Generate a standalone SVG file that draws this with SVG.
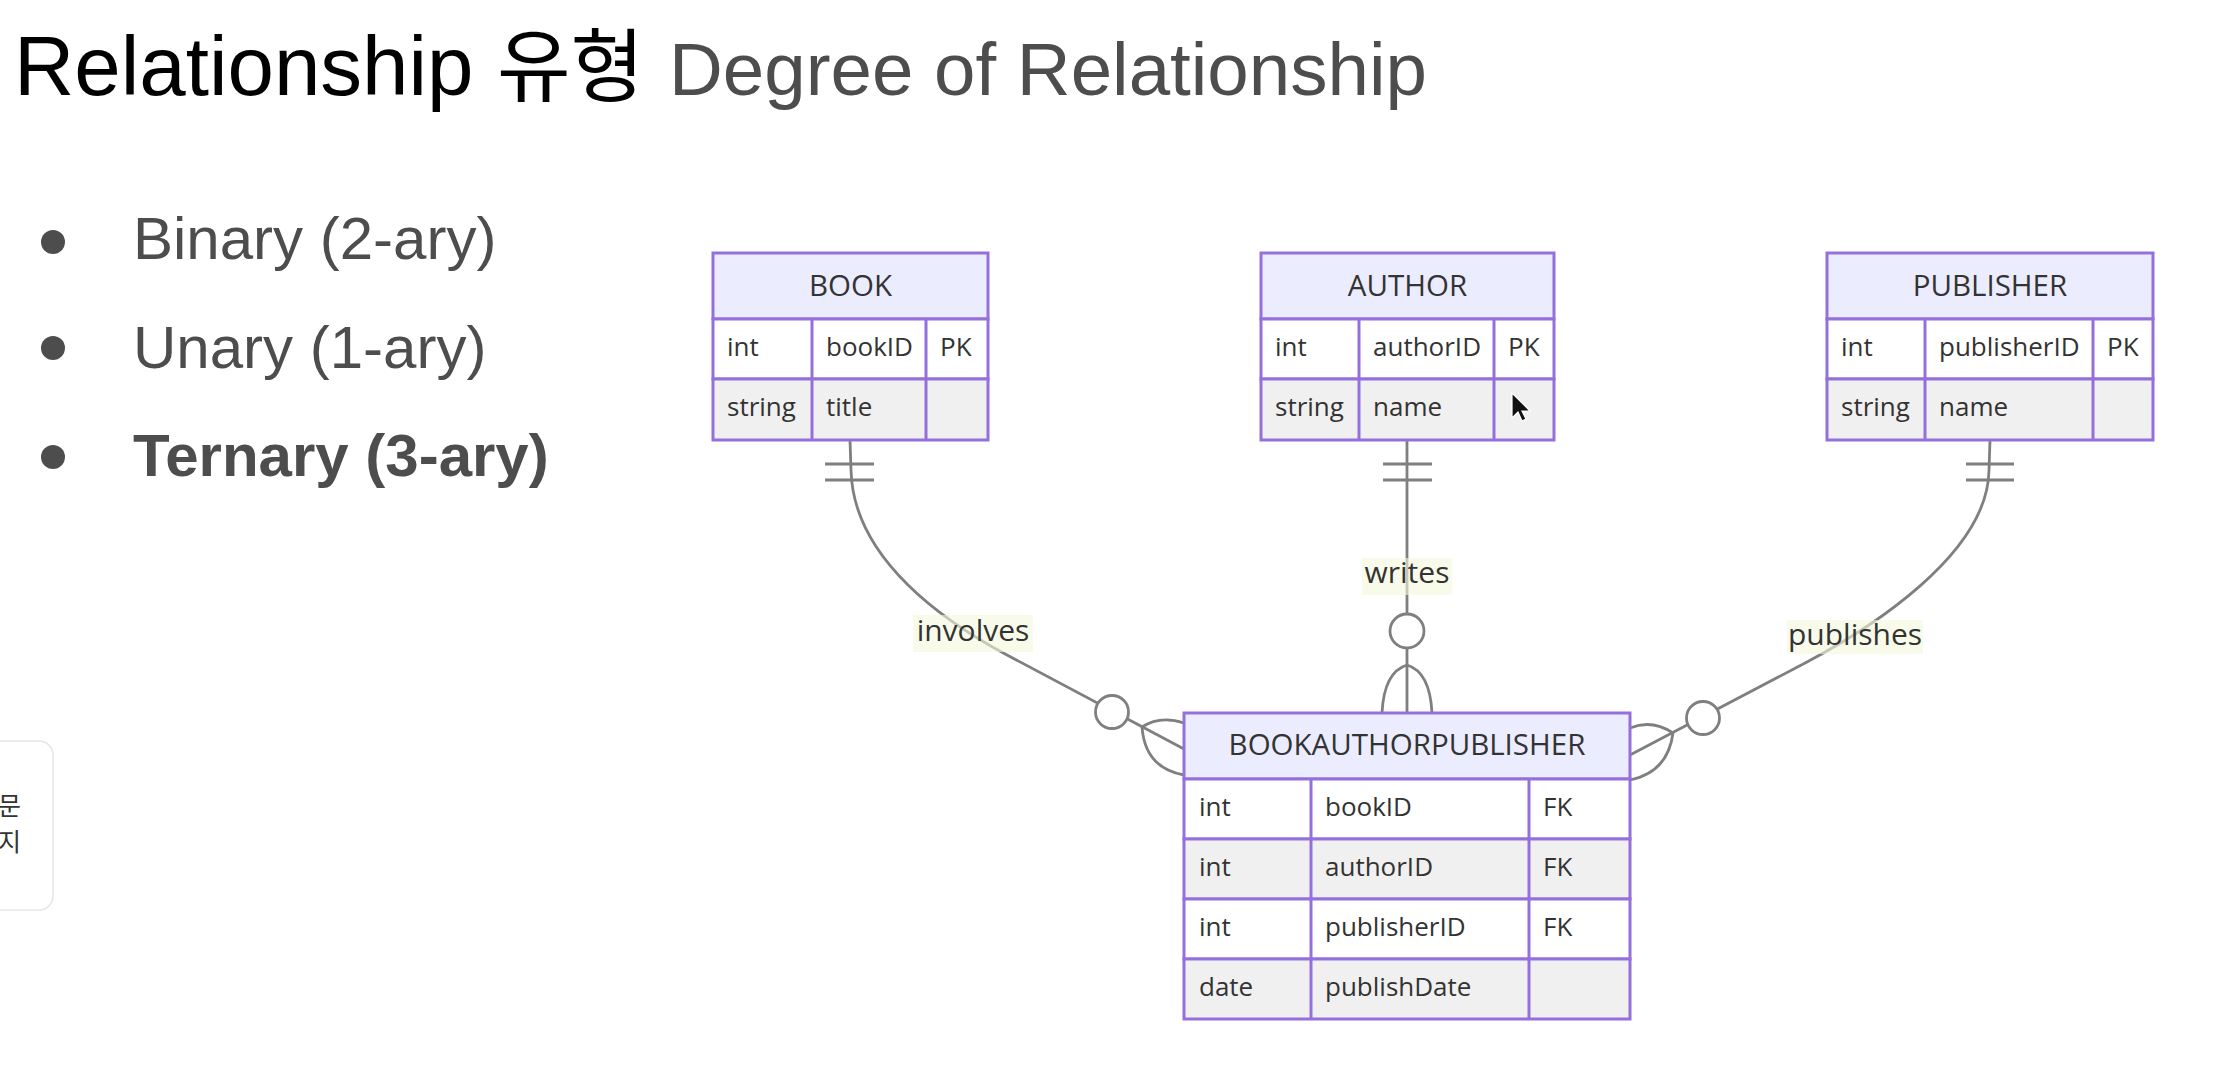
<svg xmlns="http://www.w3.org/2000/svg" width="2240" height="1090" viewBox="0 0 2240 1090">
<style>
.ttl{font-family:"Liberation Sans",Arial,"Noto Sans CJK KR",sans-serif;}
.blt{font-family:"Liberation Sans",Arial,sans-serif;font-size:60px;fill:#4d4d4d;}
.hdr{fill:#ECECFF;stroke:#9370DB;stroke-width:3;}
.rw{fill:#ffffff;stroke:#9370DB;stroke-width:3;}
.ra{fill:#f0f0f0;stroke:#9370DB;stroke-width:3;}
.cl{stroke:#9370DB;stroke-width:3;fill:none;}
.ht{font-family:"Open Sans",Lato,sans-serif;font-size:29.5px;fill:#333;text-anchor:middle;}
.tt{font-family:"Open Sans",Lato,sans-serif;font-size:26px;fill:#333;}
.edge{fill:none;stroke:#7f7f7f;stroke-width:2.8;}
.circ{fill:#ffffff;stroke:#7f7f7f;stroke-width:2.8;}
.lbg{fill:#f3f8dc;opacity:0.6;}
.lt{font-family:"Open Sans",Lato,sans-serif;font-size:30px;fill:#333;text-anchor:middle;}
</style>
<rect x="0" y="0" width="2240" height="1090" fill="#ffffff"/>

<g id="title">
<text class="ttl" x="14" y="95" font-size="83.5" fill="#000">Relationship</text>
<text class="ttl" x="497" y="95" font-size="80" fill="#000">유형</text>
<text class="ttl" x="669" y="95" font-size="74.5" fill="#4d4d4d">Degree of Relationship</text>
</g>

<g id="bullets">
<circle cx="53" cy="242" r="12" fill="#4d4d4d"/>
<text class="blt" x="133" y="259">Binary (2-ary)</text>
<circle cx="53" cy="348" r="12" fill="#4d4d4d"/>
<text class="blt" x="133" y="368">Unary (1-ary)</text>
<circle cx="53" cy="457" r="12" fill="#4d4d4d"/>
<text class="blt" x="133" y="476" font-weight="bold">Ternary (3-ary)</text>
</g>

<g id="side-panel">
<rect x="-20" y="741" width="73" height="169" rx="14" fill="#ffffff" stroke="#e6e6e6" stroke-width="1.5"/>
<text x="-2" y="815" font-family="'Noto Sans CJK KR',sans-serif" font-size="25" fill="#333">문</text>
<text x="-2" y="851" font-family="'Noto Sans CJK KR',sans-serif" font-size="25" fill="#333">지</text>
</g>

<g id="connectors">
<!-- BOOK involves -->
<path class="edge" d="M850,440 L851,470 C853,560 947,623 1007,655 L1184,749"/>
<path class="edge" d="M825,464 L874,464 M825,480 L874,480"/>
<circle class="circ" cx="1112" cy="712" r="16.5"/>
<path class="edge" d="M1142,727 Q1160,715 1184,723 M1142,727 Q1145,768 1184,775"/>
<!-- AUTHOR writes -->
<path class="edge" d="M1407,440 L1407,713"/>
<path class="edge" d="M1383,464 L1432,464 M1383,480 L1432,480"/>
<circle class="circ" cx="1407" cy="631" r="17"/>
<path class="edge" d="M1407,665 Q1384,672 1382,713 M1407,665 Q1430,672 1432,713"/>
<!-- PUBLISHER publishes -->
<path class="edge" d="M1990,440 L1989,470 C1988,555 1867,630 1807,662 L1630,755"/>
<path class="edge" d="M1966,464 L2014,464 M1966,480 L2014,480"/>
<circle class="circ" cx="1703" cy="718" r="16.5"/>
<path class="edge" d="M1673,733 Q1652,719 1630,728 M1673,733 Q1668,772 1630,780"/>
<!-- labels -->
<rect class="lbg" x="913" y="615" width="120" height="37"/>
<text class="lt" x="973" y="641">involves</text>
<rect class="lbg" x="1362" y="558" width="90" height="37"/>
<text class="lt" x="1407" y="583">writes</text>
<rect class="lbg" x="1787" y="620" width="136" height="34"/>
<text class="lt" x="1855" y="645">publishes</text>
</g>

<g id="BOOK">
<rect class="hdr" x="713" y="253" width="275" height="66"/>
<rect class="rw" x="713" y="319" width="275" height="60"/>
<rect class="ra" x="713" y="379" width="275" height="61"/>
<path class="cl" d="M812,319 V440 M926,319 V440"/>
<text class="ht" x="850.5" y="296">BOOK</text>
<text class="tt" x="727" y="356">int</text>
<text class="tt" x="826" y="356">bookID</text>
<text class="tt" x="940" y="356">PK</text>
<text class="tt" x="727" y="416">string</text>
<text class="tt" x="826" y="416">title</text>
</g>

<g id="AUTHOR">
<rect class="hdr" x="1261" y="253" width="293" height="66"/>
<rect class="rw" x="1261" y="319" width="293" height="60"/>
<rect class="ra" x="1261" y="379" width="293" height="61"/>
<path class="cl" d="M1359,319 V440 M1494,319 V440"/>
<text class="ht" x="1407.5" y="296">AUTHOR</text>
<text class="tt" x="1275" y="356">int</text>
<text class="tt" x="1373" y="356">authorID</text>
<text class="tt" x="1508" y="356">PK</text>
<text class="tt" x="1275" y="416">string</text>
<text class="tt" x="1373" y="416">name</text>
<path d="M1512,393 L1512,418 L1518,412 L1522,421 L1526,419 L1522,411 L1530,411 Z" fill="#111" stroke="#fff" stroke-width="1.2"/>
</g>

<g id="PUBLISHER">
<rect class="hdr" x="1827" y="253" width="326" height="66"/>
<rect class="rw" x="1827" y="319" width="326" height="60"/>
<rect class="ra" x="1827" y="379" width="326" height="61"/>
<path class="cl" d="M1925,319 V440 M2093,319 V440"/>
<text class="ht" x="1990" y="296">PUBLISHER</text>
<text class="tt" x="1841" y="356">int</text>
<text class="tt" x="1939" y="356">publisherID</text>
<text class="tt" x="2107" y="356">PK</text>
<text class="tt" x="1841" y="416">string</text>
<text class="tt" x="1939" y="416">name</text>
</g>

<g id="BOOKAUTHORPUBLISHER">
<rect class="hdr" x="1184" y="713" width="446" height="66"/>
<rect class="rw" x="1184" y="779" width="446" height="60"/>
<rect class="ra" x="1184" y="839" width="446" height="60"/>
<rect class="rw" x="1184" y="899" width="446" height="60"/>
<rect class="ra" x="1184" y="959" width="446" height="60"/>
<path class="cl" d="M1311,779 V1019 M1529,779 V1019"/>
<text class="ht" x="1407" y="755">BOOKAUTHORPUBLISHER</text>
<text class="tt" x="1199" y="816">int</text>
<text class="tt" x="1325" y="816">bookID</text>
<text class="tt" x="1543" y="816">FK</text>
<text class="tt" x="1199" y="876">int</text>
<text class="tt" x="1325" y="876">authorID</text>
<text class="tt" x="1543" y="876">FK</text>
<text class="tt" x="1199" y="936">int</text>
<text class="tt" x="1325" y="936">publisherID</text>
<text class="tt" x="1543" y="936">FK</text>
<text class="tt" x="1199" y="996">date</text>
<text class="tt" x="1325" y="996">publishDate</text>
</g>
</svg>
